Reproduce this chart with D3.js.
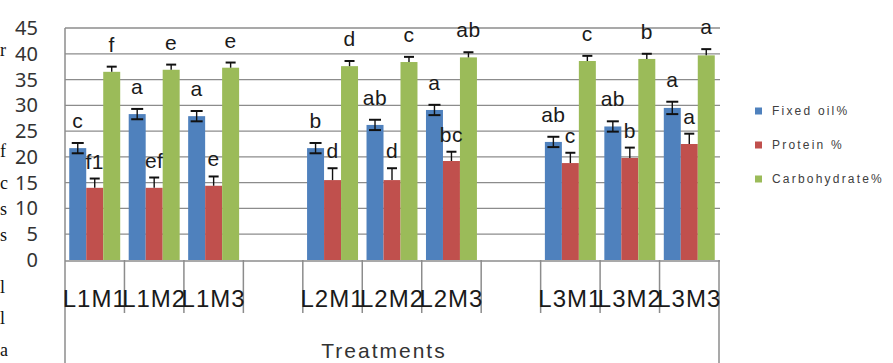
<!DOCTYPE html>
<html>
<head>
<meta charset="utf-8">
<script src="https://cdn.jsdelivr.net/npm/d3@7"></script>
<style>
  body { margin: 0; background: #fff; }
  svg { display: block; }
</style>
</head>
<body>
<svg id="chart" width="893" height="363"></svg>
<script>
// categories ("" = empty spacer slot between the L groups)
const categories = ["L1M1", "L1M2", "L1M3", "", "L2M1", "L2M2", "L2M3", "", "L3M1", "L3M2", "L3M3"]
const treatments = ["L1M1", "L1M2", "L1M3", "L2M1", "L2M2", "L2M3", "L3M1", "L3M2", "L3M3"]
const seriesNames = ["Fixed oil%", "Protein %", "Carbohydrate%"]
const colours = ["#4f81bd", "#c0504d", "#9bbb59"]

const fixedOil = [21.7, 28.3, 27.9, 21.7, 26.2, 29.1, 22.9, 25.9, 29.5]
const protein = [14.0, 14.0, 14.4, 15.5, 15.5, 19.2, 18.8, 19.8, 22.5]
const carbohydrate = [36.5, 36.9, 37.3, 37.6, 38.4, 39.3, 38.6, 39.0, 39.7]

const fixedOilErr = [1.0, 1.0, 1.0, 1.0, 1.0, 1.0, 1.0, 1.0, 1.2]
const proteinErr = [1.8, 2.0, 1.8, 2.3, 2.3, 1.8, 2.0, 2.0, 2.0]
const carbohydrateErr = [1.0, 1.0, 1.0, 1.0, 1.0, 1.0, 1.0, 1.0, 1.2]

const fixedOilLetters = ["c", "a", "a", "b", "ab", "a", "ab", "ab", "a"]
const proteinLetters = ["f1", "ef", "e", "d", "d", "bc", "c", "b", "a"]
const carbohydrateLetters = ["f", "e", "e", "d", "c", "ab", "c", "b", "a"]

const yTicks = [0, 5, 10, 15, 20, 25, 30, 35, 40, 45]

// stray characters from the cropped page text at the left edge
const strayChars = [
  {c: "r", y: 56}, {c: "f", y: 157}, {c: "c", y: 189}, {c: "s", y: 215},
  {c: "s", y: 241}, {c: "l", y: 293}, {c: "l", y: 324}, {c: "a", y: 356}
]

const series = [
  {name: seriesNames[0], values: fixedOil, err: fixedOilErr, letters: fixedOilLetters, both: true, gap: 15},
  {name: seriesNames[1], values: protein, err: proteinErr, letters: proteinLetters, both: false, gap: 10},
  {name: seriesNames[2], values: carbohydrate, err: carbohydrateErr, letters: carbohydrateLetters, both: false, gap: 15}
]

let svg = d3.select("#chart")
let plotLeft = 65, plotRight = 719, plotTop = 28, plotBottom = 260

let x0 = d3.scaleBand()
  .domain(d3.range(categories.length))
  .range([plotLeft, plotRight])
  .padding(0)

let x1 = d3.scaleBand()
  .domain(seriesNames)
  .range([0, x0.bandwidth()])
  .paddingInner(0)
  .paddingOuter(0.25)

let y = d3.scaleLinear()
  .domain([0, 45])
  .range([plotBottom, plotTop])

// slot index for every treatment
let slotOf = treatments.map(t => categories.indexOf(t))

// gridlines
svg.append("g")
  .selectAll("line")
  .data(yTicks.filter(t => t > 0))
  .enter().append("line")
  .attr("x1", plotLeft).attr("x2", plotRight + 1)
  .attr("y1", d => y(d)).attr("y2", d => y(d))
  .style("stroke", "#8c8c8c")
  .style("stroke-width", 1.3)

// y tick labels
svg.append("g")
  .selectAll("text")
  .data(yTicks)
  .enter().append("text")
  .attr("x", 38)
  .attr("y", d => y(d) + 7)
  .attr("text-anchor", "end")
  .attr("font-family", "Noto Sans, sans-serif")
  .attr("font-size", 20)
  .attr("fill", "#333")
  .text(d => d)

// bars
series.forEach((s, si) => {
  let g = svg.append("g")
  g.selectAll("rect")
    .data(s.values)
    .enter().append("rect")
    .attr("x", (d, i) => x0(slotOf[i]) + x1(s.name))
    .attr("y", d => y(d))
    .attr("width", x1.bandwidth())
    .attr("height", d => plotBottom - y(d))
    .style("fill", colours[si])
})

// error bars and letters
series.forEach((s, si) => {
  let g = svg.append("g")
  s.values.forEach((v, i) => {
    let cx = x0(slotOf[i]) + x1(s.name) + x1.bandwidth() / 2
    let hi = y(v + s.err[i])
    let lo = s.both ? y(v - s.err[i]) : y(v)
    let cap = s.both ? 6 : 5
    g.append("line")
      .attr("x1", cx).attr("x2", cx).attr("y1", hi).attr("y2", lo)
      .style("stroke", "#111").style("stroke-width", 1.4)
    g.append("line")
      .attr("x1", cx - cap).attr("x2", cx + cap).attr("y1", hi).attr("y2", hi)
      .style("stroke", "#111").style("stroke-width", 2)
    if (s.both) {
      g.append("line")
        .attr("x1", cx - cap).attr("x2", cx + cap).attr("y1", lo).attr("y2", lo)
        .style("stroke", "#111").style("stroke-width", 2)
    }
    g.append("text")
      .attr("x", cx)
      .attr("y", hi - s.gap)
      .attr("text-anchor", "middle")
      .attr("font-family", "Liberation Sans, Arial, sans-serif")
      .attr("font-size", 21)
      .attr("letter-spacing", 0.5)
      .attr("fill", "#1a1a1a")
      .text(s.letters[i])
  })
})

// axes lines
svg.append("line")
  .attr("x1", plotLeft).attr("x2", plotLeft).attr("y1", plotTop).attr("y2", 363)
  .style("stroke", "#8c8c8c").style("stroke-width", 1.5)
svg.append("line")
  .attr("x1", plotLeft).attr("x2", plotRight + 1).attr("y1", plotBottom + 1).attr("y2", plotBottom + 1)
  .style("stroke", "#8c8c8c").style("stroke-width", 1.5)
svg.append("line")
  .attr("x1", plotRight).attr("x2", plotRight).attr("y1", plotBottom).attr("y2", 363)
  .style("stroke", "#8c8c8c").style("stroke-width", 1.5)

// category separators
svg.append("g")
  .selectAll("line")
  .data(d3.range(1, categories.length))
  .enter().append("line")
  .attr("x1", d => x0(d)).attr("x2", d => x0(d))
  .attr("y1", plotBottom).attr("y2", 313)
  .style("stroke", "#8c8c8c").style("stroke-width", 1.5)

// category labels
svg.append("g")
  .selectAll("text")
  .data(categories)
  .enter().append("text")
  .attr("x", (d, i) => x0(i) + x0.bandwidth() / 2)
  .attr("y", 307)
  .attr("text-anchor", "middle")
  .attr("font-family", "Liberation Sans, Arial, sans-serif")
  .attr("font-size", 24)
  .attr("letter-spacing", 1)
  .attr("fill", "#1a1a1a")
  .text(d => d)

// axis title
svg.append("text")
  .attr("x", 384)
  .attr("y", 358)
  .attr("text-anchor", "middle")
  .attr("font-family", "Liberation Sans, Arial, sans-serif")
  .attr("font-size", 21)
  .attr("letter-spacing", 2)
  .attr("fill", "#333")
  .text("Treatments")

// legend
let legend = svg.append("g")
seriesNames.forEach((n, i) => {
  let ly = 111 + i * 34
  legend.append("rect")
    .attr("x", 755).attr("y", ly - 3.5)
    .attr("width", 7).attr("height", 7)
    .style("fill", colours[i])
  legend.append("text")
    .attr("x", 772).attr("y", ly + 4)
    .attr("font-family", "Liberation Sans, Arial, sans-serif")
    .attr("font-size", 12)
    .attr("letter-spacing", 2.2)
    .attr("fill", "#404040")
    .text(n)
})

// page text fragments at the left border
svg.append("g")
  .selectAll("text")
  .data(strayChars)
  .enter().append("text")
  .attr("x", 0)
  .attr("y", d => d.y)
  .attr("font-family", "Liberation Serif, serif")
  .attr("font-size", 18)
  .attr("fill", "#111")
  .text(d => d.c)
</script>
</body>
</html>
